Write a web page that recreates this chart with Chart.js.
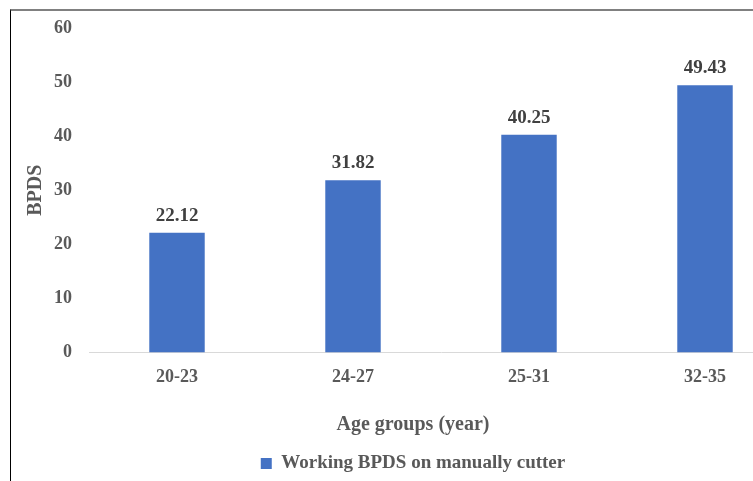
<!DOCTYPE html>
<html>
<head>
<meta charset="utf-8">
<script src="https://cdn.jsdelivr.net/npm/chart.js@4/dist/chart.umd.min.js"></script>
<style>
  html, body { margin: 0; padding: 0; background: #fff; overflow: hidden; width: 753px; height: 481px; }
  #wrap { position: absolute; left: 0; top: 0; width: 826px; height: 483px; }
  #frame { position: absolute; left: 10px; top: 9px; width: 900px; height: 600px;
           border-top: 2px solid #808080; border-left: 1px solid #000; pointer-events: none; }
</style>
</head>
<body>
<div id="wrap"><canvas id="c" width="826" height="483"></canvas></div>
<div id="frame"></div>
<script>
const categories = ['20-23', '24-27', '25-31', '32-35'];
const bpdsValues = [22.12, 31.82, 40.25, 49.43];
const yTicks = [0, 10, 20, 30, 40, 50, 60];
const seriesName = 'Working BPDS on manually cutter';
const xTitle = 'Age groups (year)';
const yTitle = 'BPDS';

const SERIF = "'Liberation Serif', 'Times New Roman', serif";
const GREY = '#595959';
const BLUE = '#4472C4';

// Writes each bar's value just above it
const valueLabels = {
  id: 'valueLabels',
  afterDatasetsDraw(chart) {
    const ctx = chart.ctx;
    const meta = chart.getDatasetMeta(0);
    ctx.save();
    ctx.font = 'bold 19px ' + SERIF;
    ctx.fillStyle = '#404040';
    ctx.textAlign = 'center';
    ctx.textBaseline = 'alphabetic';
    meta.data.forEach((bar, i) => {
      ctx.fillText(bpdsValues[i].toFixed(2), bar.x, bar.y - 12);
    });
    ctx.restore();
  }
};

new Chart(document.getElementById('c'), {
  type: 'bar',
  data: {
    labels: categories,
    datasets: [{
      label: seriesName,
      data: bpdsValues,
      backgroundColor: BLUE,
      borderWidth: 0,
      barPercentage: 0.315,
      categoryPercentage: 1
    }]
  },
  options: {
    responsive: false,
    animation: false,
    devicePixelRatio: 1,
    layout: { padding: { top: 28, left: 33, right: 33, bottom: 0 } },
    plugins: {
      tooltip: { enabled: false },
      title: {
        display: true,
        position: 'bottom',
        text: xTitle,
        color: GREY,
        font: { family: SERIF, size: 20, weight: 'bold', lineHeight: 1.2 },
        padding: { top: 11, bottom: 7 }
      },
      legend: {
        display: true,
        position: 'bottom',
        weight: 3000,
        labels: {
          color: GREY,
          font: { family: SERIF, size: 19, weight: 'bold' },
          boxWidth: 11,
          boxHeight: 11,
          padding: 10
        }
      }
    },
    scales: {
      x: {
        offset: true,
        grid: { display: false, drawTicks: false },
        border: { display: true, color: '#d9d9d9', width: 1 },
        ticks: {
          color: GREY,
          padding: 14,
          font: { family: SERIF, size: 18, weight: 'bold' }
        }
      },
      y: {
        min: yTicks[0],
        max: yTicks[yTicks.length - 1],
        grid: { display: false, drawTicks: false },
        border: { display: false },
        ticks: {
          stepSize: yTicks[1] - yTicks[0],
          color: GREY,
          padding: 17,
          font: { family: SERIF, size: 18, weight: 'bold' }
        },
        title: {
          display: true,
          text: yTitle,
          color: GREY,
          font: { family: SERIF, size: 20, weight: 'bold', lineHeight: 1.2 },
          padding: { top: -9, bottom: 0 }
        },
        afterFit(scale) { scale.width = 56; }
      }
    }
  },
  plugins: [valueLabels]
});
</script>
</body>
</html>
